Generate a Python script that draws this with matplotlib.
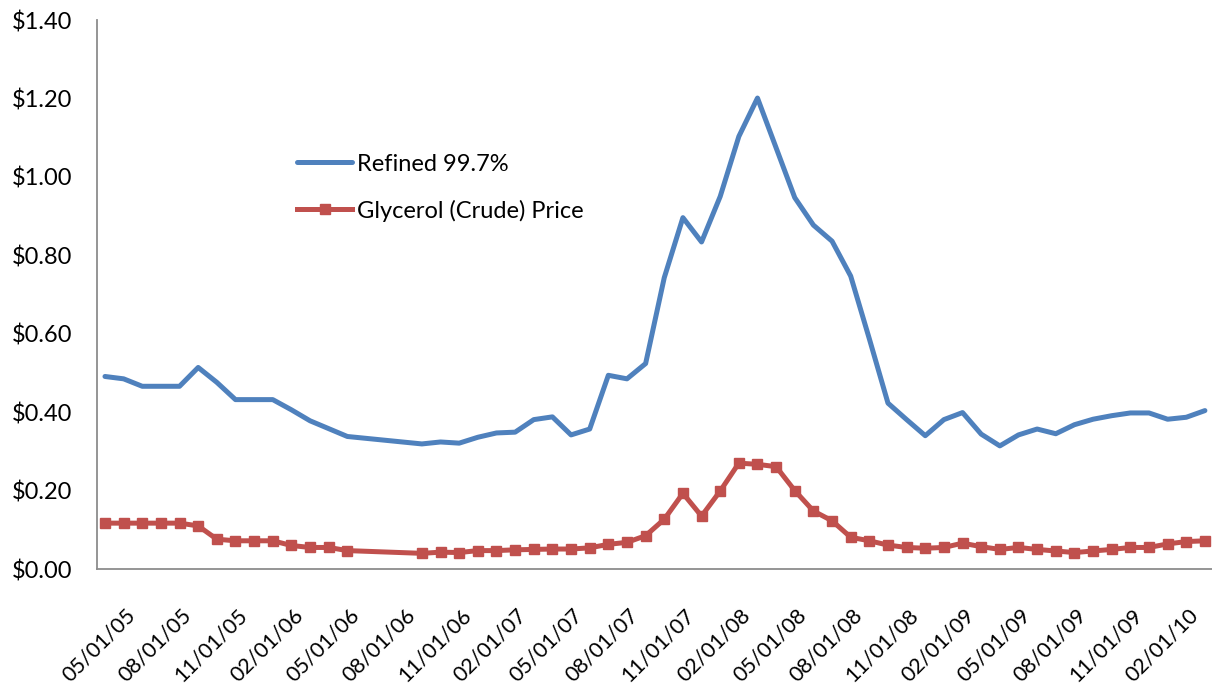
import numpy as np
import pandas as pd
import matplotlib
matplotlib.use("Agg")
import matplotlib.pyplot as plt
import matplotlib.transforms as mtransforms
from matplotlib.ticker import FuncFormatter

# monthly glycerol prices, 05/2005 - 04/2010 (None = no quote that month)
months = pd.date_range("2005-05-01", periods=60, freq="MS")

refined = [0.491, 0.485, 0.466, 0.466, 0.466, 0.514, 0.476, 0.432, 0.432, 0.432,
           0.406, 0.378, 0.358, 0.338, None, None, None, 0.319, 0.324, 0.321,
           0.336, 0.347, 0.349, 0.381, 0.388, 0.342, 0.357, 0.494, 0.485, 0.524,
           0.743, 0.896, 0.834, 0.950, 1.103, 1.201, 1.074, 0.947, 0.877, 0.836,
           0.747, 0.587, 0.423, 0.381, 0.340, 0.381, 0.399, 0.344, 0.314, 0.342,
           0.357, 0.345, 0.368, 0.382, 0.391, 0.398, 0.398, 0.382, 0.387, 0.404]

crude = [0.117, 0.117, 0.117, 0.117, 0.117, 0.110, 0.076, 0.072, 0.072, 0.072,
         0.060, 0.055, 0.055, 0.047, None, None, None, 0.040, 0.043, 0.042,
         0.047, 0.047, 0.049, 0.050, 0.051, 0.051, 0.054, 0.063, 0.068, 0.085,
         0.127, 0.193, 0.135, 0.199, 0.270, 0.267, 0.261, 0.200, 0.148, 0.123,
         0.081, 0.072, 0.061, 0.055, 0.053, 0.055, 0.066, 0.057, 0.050, 0.055,
         0.050, 0.046, 0.042, 0.046, 0.050, 0.055, 0.055, 0.064, 0.070, 0.072]

blue = "#4F81BD"
red = "#C0504D"

plt.rcParams['font.family'] = ['Lato', 'DejaVu Sans']

fig = plt.figure(figsize=(12.12, 6.85), dpi=100)
ax = fig.add_axes([0.080, 0.1693, 0.920, 0.8015])

x = np.arange(len(months))

# skip the missing months so the line joins straight across them
def present(vals):
    idx = [i for i, v in enumerate(vals) if v is not None]
    return x[idx], [vals[i] for i in idx]

rx, ry = present(refined)
cx, cy = present(crude)
ax.plot(rx, ry, color=blue, linewidth=3.6, label="Refined 99.7%",
        solid_joinstyle="round", solid_capstyle="round")
ax.plot(cx, cy, color=red, linewidth=3.6, marker="s", markersize=6.5,
        label="Glycerol (Crude) Price", solid_joinstyle="round")

ax.set_ylim(0, 1.40)
ax.set_yticks(np.arange(0, 1.41, 0.20))
ax.yaxis.set_major_formatter(FuncFormatter(lambda v, p: "${:.2f}".format(v)))
ax.set_xlim(-0.43, 59.38)
ax.set_xticks(x[::3])
ax.set_xticklabels([d.strftime("%m/%d/%y") for d in months[::3]],
                   rotation=45, ha="right", rotation_mode="anchor")

for s in ["top", "right"]:
    ax.spines[s].set_visible(False)
for s in ["left", "bottom"]:
    ax.spines[s].set_color("#8c8c8c")
    ax.spines[s].set_linewidth(1.3)
ax.tick_params(axis="y", length=0, labelsize=17, colors="black", pad=18)
ax.tick_params(axis="x", length=0, labelsize=15.5, colors="black", pad=26)

# nudge the slanted date labels to the right so they end under their month
shift = mtransforms.ScaledTranslation(20 / 100, 0, fig.dpi_scale_trans)
for lab in ax.get_xticklabels():
    lab.set_transform(lab.get_transform() + shift)

ax.legend(loc="upper left", bbox_to_anchor=(0.171, 0.774), frameon=False,
          borderaxespad=0, fontsize=17, handlelength=2.33, handletextpad=0.2,
          labelspacing=1.06)

fig.savefig("out.png", dpi=100)
